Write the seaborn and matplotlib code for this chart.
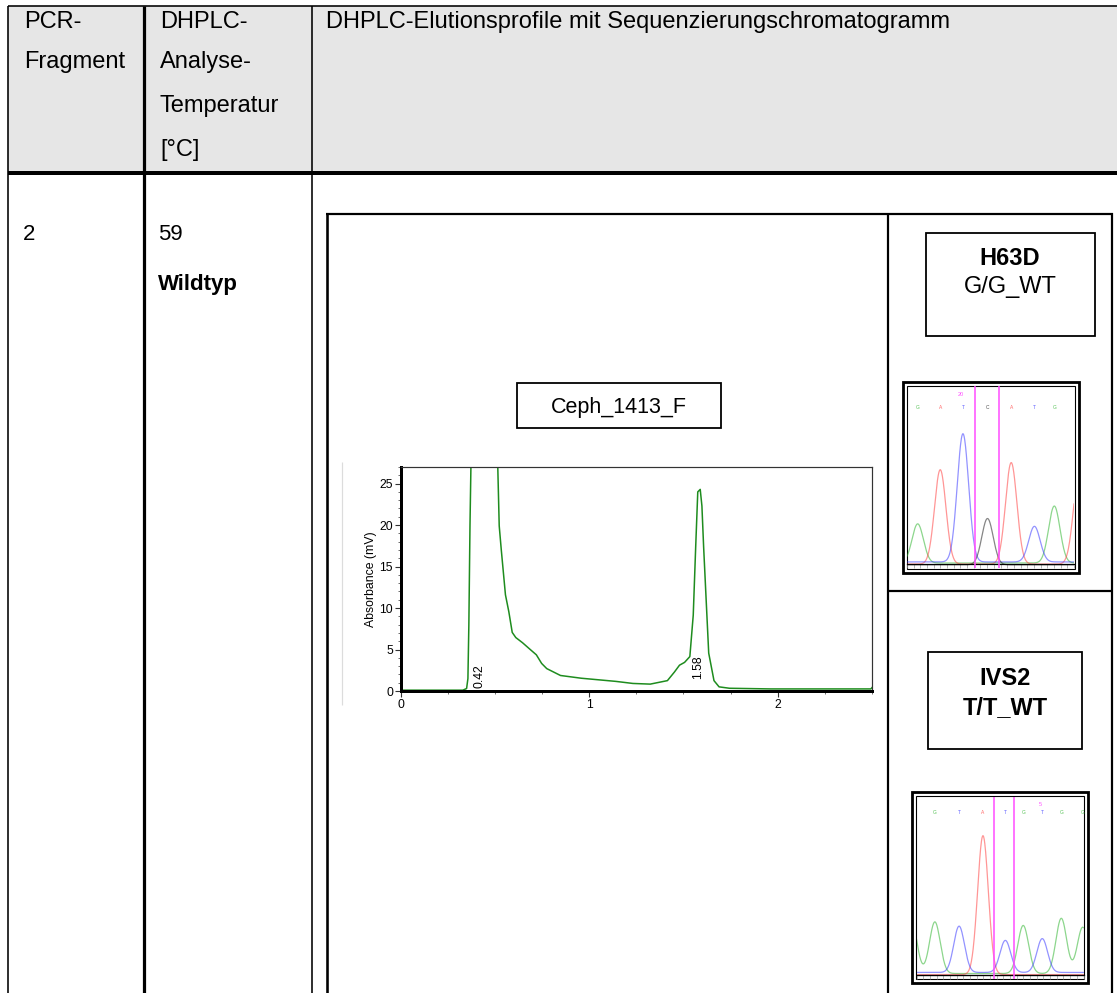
import numpy as np
import pandas as pd
import matplotlib
matplotlib.use("Agg")
import matplotlib.pyplot as plt
import seaborn as sns
from matplotlib.patches import Rectangle
from matplotlib.ticker import MultipleLocator

# ---------------- data ----------------
header_col1 = ["PCR-", "Fragment"]
header_col2 = ["DHPLC-", "Analyse-", "Temperatur", "[°C]"]
header_col3 = "DHPLC-Elutionsprofile mit Sequenzierungschromatogramm"
fragment = "2"
temperature = "59"
genotype_class = "Wildtyp"
sample_name = "Ceph_1413_F"

# DHPLC elution profile (time [min], absorbance [mV])
dhplc_time = [0.0, 0.245, 0.33, 0.35, 0.357, 0.362, 0.368, 0.375, 0.44, 0.51,
              0.523, 0.534, 0.556, 0.574, 0.592, 0.611, 0.647, 0.684, 0.720,
              0.748, 0.775, 0.848, 0.958, 1.141, 1.232, 1.324, 1.415, 1.452,
              1.479, 1.506, 1.534, 1.552, 1.565, 1.576, 1.589, 1.598, 1.607,
              1.620, 1.634, 1.662, 1.689, 1.744, 1.963, 2.494, 2.508]
dhplc_abs = [0.1, 0.1, 0.1, 0.3, 1.5, 8.0, 20.0, 30.0, 120.0, 32.0,
             19.9, 17.0, 11.6, 9.55, 7.06, 6.44, 5.81, 5.07, 4.36,
             3.32, 2.70, 1.87, 1.54, 1.16, 0.91, 0.83, 1.25, 2.28,
             3.11, 3.45, 4.15, 9.14, 17.4, 24.0, 24.3, 22.3, 17.4,
             11.2, 4.57, 1.25, 0.50, 0.33, 0.25, 0.25, 0.62]
peak_times = ["0.42", "1.58"]
peak_x = [0.42, 1.58]

# Sequencing chromatograms: called bases, peak positions (fraction of window), peak heights
h63d_title, h63d_geno = "H63D", "G/G_WT"
h63d_bases = ["G", "A", "T", "C", "A", "T", "G", "A"]
h63d_pos = [0.064, 0.199, 0.335, 0.482, 0.624, 0.763, 0.882, 1.03]
h63d_height = [0.22, 0.53, 0.72, 0.26, 0.57, 0.20, 0.32, 0.50]
h63d_marks = [0.406, 0.552]
h63d_label = "20"
h63d_label_pos = 0.32

ivs2_title, ivs2_geno = "IVS2", "T/T_WT"
ivs2_bases = ["G", "G", "T", "A", "T", "G", "T", "G", "G"]
ivs2_pos = [-0.03, 0.110, 0.255, 0.398, 0.532, 0.639, 0.753, 0.867, 0.995]
ivs2_height = [0.30, 0.29, 0.26, 0.78, 0.18, 0.27, 0.19, 0.31, 0.26]
ivs2_marks = [0.464, 0.584]
ivs2_label = "5"
ivs2_label_pos = 0.74

base_colors = {"G": "#2fb52f", "A": "#ff4040", "T": "#3a3aff", "C": "#222222"}
base_offset = {"G": 0.006, "A": 0.0, "T": 0.012, "C": -0.004}

# ---------------- style ----------------
sns.set_theme(style="white")
plt.rcParams["font.family"] = ["Liberation Sans", "DejaVu Sans"]
plt.rcParams["text.color"] = "black"
plt.rcParams["axes.labelcolor"] = "black"
plt.rcParams["xtick.color"] = "black"
plt.rcParams["ytick.color"] = "black"

W, H = 1117, 993
fig = plt.figure(figsize=(W / 100, H / 100), dpi=100)
page = fig.add_axes([0, 0, 1, 1])
page.set_xlim(0, W)
page.set_ylim(H, 0)
page.axis("off")


def lw(px):
    return px * 0.72


def fig_rect(x0, y0, x1, y1):
    return [x0 / W, 1 - y1 / H, (x1 - x0) / W, (y1 - y0) / H]


# ---------------- table ----------------
page.add_patch(Rectangle((8, 6), W - 8, 167, facecolor="#e6e6e6", edgecolor="none", zorder=0))
page.hlines(6, 8, W, color="black", lw=lw(1.6))
page.vlines(8, 6, H, color="black", lw=lw(1.6))
page.hlines(173, 8, W, color="black", lw=lw(4))
page.vlines(143.5, 6, H, color="black", lw=lw(3.2))
page.vlines(312, 6, H, color="black", lw=lw(1.6))

tfs = 17
for i, t in enumerate(header_col1):
    page.text(24, [28, 68][i], t, fontsize=tfs, va="baseline", ha="left")
for i, t in enumerate(header_col2):
    page.text(160, [28, 68, 112, 156][i], t, fontsize=tfs, va="baseline", ha="left")
page.text(326, 28, header_col3, fontsize=tfs, va="baseline", ha="left")

page.text(23, 240, fragment, fontsize=16, va="baseline")
page.text(158, 240, temperature, fontsize=16, va="baseline")
page.text(158, 290, genotype_class, fontsize=16, va="baseline", fontweight="bold")

# inner figure frame
page.vlines(326.5, 213, H, color="black", lw=lw(2.6))
page.hlines(213.5, 326, 1113, color="black", lw=lw(2.2))
page.vlines(1112, 213, H, color="black", lw=lw(2.2))
page.vlines(887.5, 213, H, color="black", lw=lw(2.2))
page.hlines(591, 887, 1113, color="black", lw=lw(2.2))

# label boxes
page.add_patch(Rectangle((517, 383), 204, 45, fill=False, edgecolor="black", lw=lw(1.8)))
page.text(619, 413, sample_name, fontsize=15.5, ha="center", va="baseline")
page.add_patch(Rectangle((926, 233), 169, 103, fill=False, edgecolor="black", lw=lw(1.8)))
page.text(1010, 265, h63d_title, fontsize=17, ha="center", va="baseline", fontweight="bold")
page.text(1010, 293, h63d_geno, fontsize=17, ha="center", va="baseline")
page.add_patch(Rectangle((928, 652), 154, 97, fill=False, edgecolor="black", lw=lw(1.8)))
page.text(1005, 685, ivs2_title, fontsize=17, ha="center", va="baseline", fontweight="bold")
page.text(1005, 714, ivs2_geno, fontsize=17, ha="center", va="baseline", fontweight="bold")

# light frame of the embedded DHPLC image
page.vlines(342, 462, 705, color="#dcdcdc", lw=lw(1.2))

# ---------------- DHPLC chromatogram ----------------
axd = fig.add_axes(fig_rect(400.6, 467, 872, 691))
axd.set_facecolor("none")
sns.lineplot(x=dhplc_time, y=dhplc_abs, ax=axd, color="#1e8c1e", lw=1.1,
             estimator=None, sort=False)
axd.set_xlim(0, 2.5)
axd.set_ylim(0, 27)
for s in ["left", "bottom"]:
    axd.spines[s].set_linewidth(lw(3))
    axd.spines[s].set_color("black")
for s in ["top", "right"]:
    axd.spines[s].set_linewidth(lw(1.2))
    axd.spines[s].set_color("#333333")
axd.yaxis.set_major_locator(MultipleLocator(5))
axd.yaxis.set_minor_locator(MultipleLocator(1))
axd.xaxis.set_major_locator(MultipleLocator(1))
axd.xaxis.set_minor_locator(MultipleLocator(0.25))
axd.tick_params(which="major", direction="out", length=4, width=0.8, labelsize=8.8,
                pad=1.5, left=True, bottom=True, color="#333333")
axd.tick_params(which="minor", direction="out", length=2, width=0.6, left=True,
                bottom=True, color="#555555")
axd.set_ylabel("Absorbance (mV)", fontsize=8.8, labelpad=2)
axd.set_xlabel("")
for lab, xv, yv in zip(peak_times, peak_x, [0.4, 1.45]):
    axd.text(xv, yv, lab, rotation=90, ha="center", va="bottom", fontsize=8.8)


# ---------------- sequencing chromatograms ----------------
def draw_seq(outer, bases, pos, height, marks, label, label_pos, sigma, letter_y):
    x0, y0, x1, y1 = outer
    page.add_patch(Rectangle((x0, y0), x1 - x0, y1 - y0, fill=False,
                             edgecolor="black", lw=lw(2.8)))
    page.add_patch(Rectangle((x0 + 4, y0 + 4), x1 - x0 - 8, y1 - y0 - 8, fill=False,
                             edgecolor="black", lw=lw(1.1)))
    ax = fig.add_axes(fig_rect(x0 + 4.5, y0 + 4.5, x1 - 4.5, y1 - 4.5))
    ax.set_facecolor("none")
    grid = np.linspace(0, 1, 600)
    frames = []
    for b in ["G", "A", "T", "C"]:
        sig = np.full_like(grid, base_offset[b])
        for bb, p, h in zip(bases, pos, height):
            if bb == b:
                sig = sig + h * np.exp(-0.5 * ((grid - p) / sigma) ** 2)
        frames.append(pd.DataFrame({"scan": grid, "signal": sig, "base": b}))
    df = pd.concat(frames, ignore_index=True)
    sns.lineplot(data=df, x="scan", y="signal", hue="base", palette=base_colors,
                 estimator=None, legend=False, lw=0.9, alpha=0.55, ax=ax)
    for m in marks:
        ax.axvline(m, color="#ff4dff", lw=1.1, zorder=5)
    ax.text(label_pos, 0.955, label, color="#ff4dff", fontsize=4, ha="center", va="center")
    for b, p in zip(bases, pos):
        if 0 <= p <= 1:
            ax.text(p, letter_y, b, color=base_colors[b], fontsize=3.5, ha="center",
                    va="center", alpha=0.8)
    ax.set_xlim(0, 1)
    ax.set_ylim(-0.022, 1.0)
    for s in ["left", "right", "top"]:
        ax.spines[s].set_visible(False)
    ax.spines["bottom"].set_position(("data", 0))
    ax.spines["bottom"].set_color("black")
    ax.spines["bottom"].set_linewidth(0.9)
    ax.set_xticks(np.arange(0, 1.001, 0.04))
    ax.set_yticks([])
    ax.tick_params(axis="x", direction="out", length=3, width=0.5, color="#9a9a9a",
                   labelbottom=False, bottom=True)
    ax.set_xlabel("")
    ax.set_ylabel("")


draw_seq((902.5, 381.5, 1078.5, 572.5), h63d_bases, h63d_pos, h63d_height,
         h63d_marks, h63d_label, h63d_label_pos, 0.034, 0.88)
draw_seq((912, 792, 1088, 983), ivs2_bases, ivs2_pos, ivs2_height,
         ivs2_marks, ivs2_label, ivs2_label_pos, 0.032, 0.91)

fig.savefig("out.png", dpi=100)
